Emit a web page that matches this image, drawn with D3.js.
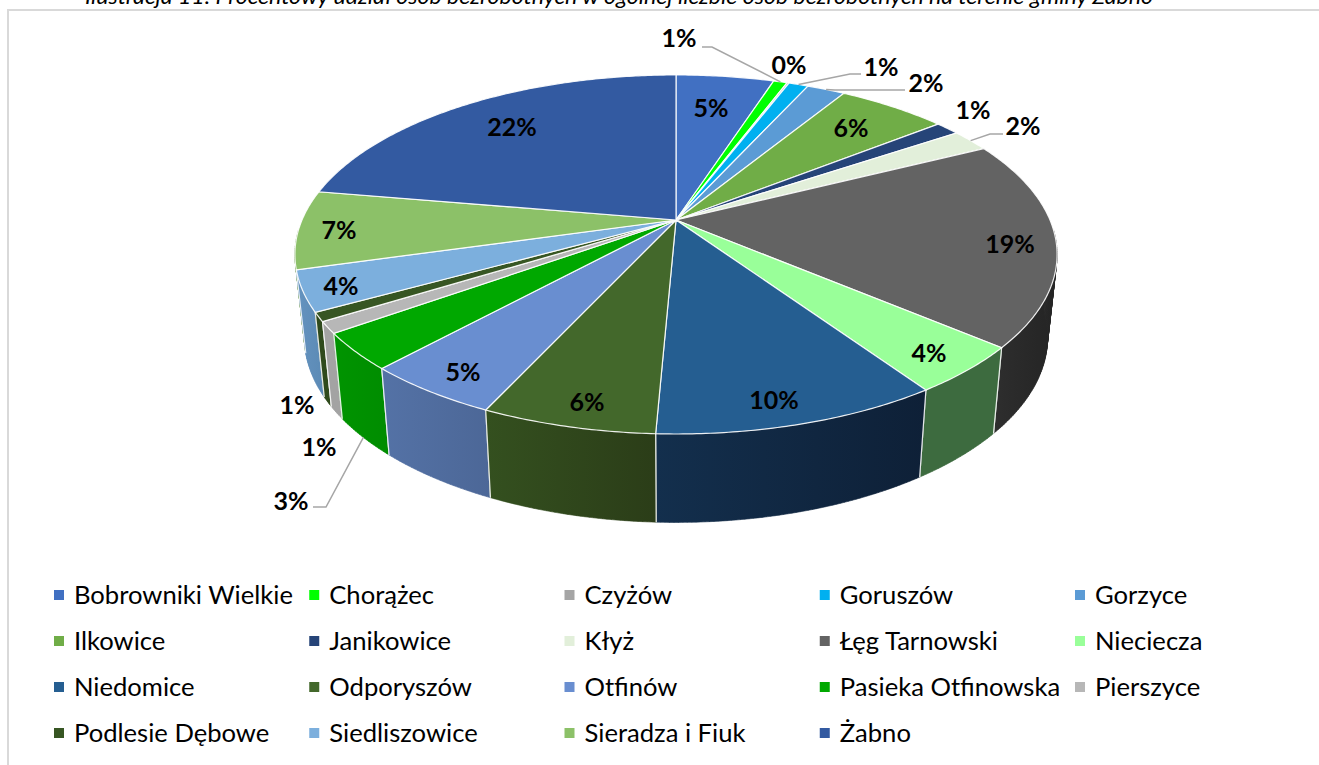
<!DOCTYPE html>
<html>
<head>
<meta charset="utf-8">
<script src="https://cdn.jsdelivr.net/npm/d3@7"></script>
<style>
  html, body { margin: 0; padding: 0; background: #fff; overflow: hidden; }
  text { font-family: Lato, "Open Sans", sans-serif; fill: #000; }
</style>
</head>
<body>
<div id="chart-area"></div>
<script>
var width = 1319;
var height = 765;

var caption = "Ilustracja 11. Procentowy udział osób bezrobotnych w ogólnej liczbie osób bezrobotnych na terenie gminy Żabno";

var categories = ["Bobrowniki Wielkie", "Chorążec", "Czyżów", "Goruszów", "Gorzyce",
    "Ilkowice", "Janikowice", "Kłyż", "Łęg Tarnowski", "Nieciecza",
    "Niedomice", "Odporyszów", "Otfinów", "Pasieka Otfinowska", "Pierszyce",
    "Podlesie Dębowe", "Siedliszowice", "Sieradza i Fiuk", "Żabno"];
var shares = [5, 0.7, 0.1, 1, 1.95, 5.6, 1.25, 2, 18.6, 4.3, 10.2, 6.2, 4.9, 3.3, 1.05, 0.8, 3.65, 7.1, 22.3];

var topColors = ["#4170c2", "#00ff00", "#a5a5a5", "#00b0f0", "#5b9bd5",
    "#70ad47", "#264478", "#e2efda", "#636363", "#99ff99",
    "#255e91", "#43682b", "#698ed0", "#00a800", "#b7b7b7",
    "#375623", "#7cafdd", "#8cc168", "#335aa1"];
var sideLeft = ["#33589a", "#00c000", "#808080", "#0088ba", "#4678a5",
    "#57863a", "#1d345d", "#afb9a9", "#2e2e2e", "#3d6b3f",
    "#132f4d", "#34501f", "#5472a6", "#009400", "#a3a3a3",
    "#2f4a1c", "#6593bf", "#6c964f", "#27467d"];
var sideRight = ["#33589a", "#00c000", "#808080", "#0088ba", "#4678a5",
    "#57863a", "#1d345d", "#afb9a9", "#242424", "#3d6b3f",
    "#0e2037", "#2b3d18", "#4c6797", "#008c00", "#a3a3a3",
    "#2f4a1c", "#5b8ab5", "#6c964f", "#27467d"];

// label centres, same order as categories
var labelX = [711, 679, 789, 881, 926, 851, 973, 1023, 1010, 929, 774, 587, 463, 291, 319, 297, 341, 339, 512];
var labelY = [108, 38, 65, 67, 83, 128, 110, 126, 244, 353, 400, 402, 372, 501, 447, 405, 286, 230, 127];

// leader lines: slice index and the elbow points next to its label
var leaders = [
    {i: 1, pts: [[702, 47], [712, 47]]},
    {i: 3, pts: [[861, 74], [850, 74]]},
    {i: 4, pts: [[905, 90], [835, 90]]},
    {i: 7, pts: [[1003, 134], [990, 134]]},
    {i: 13, pts: [[313, 507], [326, 507]], side: true}
];

var svg = d3.select("#chart-area")
    .append("svg")
    .attr("width", width)
    .attr("height", height);

// frame, runs off the right and bottom of the picture
svg.append("rect")
    .attr("x", 8).attr("y", 10)
    .attr("width", width + 10)
    .attr("height", height + 10)
    .attr("fill", "#fff")
    .attr("stroke", "#d9d9d9")
    .attr("stroke-width", 2);

// caption is cut by the top edge in the original too
svg.append("text")
    .attr("x", 85).attr("y", 4)
    .attr("font-size", "20.5px")
    .attr("font-style", "italic")
    .attr("textLength", 1068)
    .attr("lengthAdjust", "spacingAndGlyphs")
    .text(caption);

// perspective of the pie disc
var cx = 676, cy = 220, rx = 374, ry = 172.9, k = 0.192;
var bottomCy = 302, bottomSx = 0.975, bottomSy = 1.03;

function project(a) {
    var u = Math.sin(a), v = -Math.cos(a), w = 1 - k * v;
    return [rx * u / w, ry * v / w];
}
function topPt(a) {
    var p = project(a);
    return [cx + p[0], cy + p[1]];
}
function bottomPt(a) {
    var p = project(a);
    return [cx + p[0] * bottomSx, bottomCy + p[1] * bottomSy];
}
function facesViewer(a) {
    return -Math.cos(a) > 0.05;
}
function rimAngles(a0, a1) {
    var n = Math.max(2, Math.ceil((a1 - a0) / 0.01));
    return d3.range(n + 1).map((j) => { return a0 + (a1 - a0) * j / n; });
}
function rim(a0, a1, fn) {
    return rimAngles(a0, a1).map(fn);
}

var pie = d3.pie().sort(null).value((d) => { return d; });
var arcs = pie(shares).map((d, i) => {
    return {i: i, a0: d.startAngle, a1: d.endAngle, mid: (d.startAngle + d.endAngle) / 2};
});
var line = d3.line();
var defs = svg.append("defs");

// sides, back ones first so the front ones paint over
var sides = arcs.slice().sort((a, b) => { return Math.cos(b.mid) - Math.cos(a.mid); });
sides.forEach((d) => {
    // only the part of the wall that faces the viewer
    var angles = rimAngles(d.a0, d.a1).filter(facesViewer);
    if (angles.length < 2) return;
    var tops = angles.map(topPt);
    var bots = angles.map(bottomPt);
    var xs = d3.extent(tops.concat(bots), (p) => { return p[0]; });

    var grad = defs.append("linearGradient")
        .attr("id", "side" + d.i)
        .attr("gradientUnits", "userSpaceOnUse")
        .attr("x1", xs[0]).attr("x2", xs[1]);
    grad.append("stop").attr("offset", "0").attr("stop-color", sideLeft[d.i]);
    grad.append("stop").attr("offset", "1").attr("stop-color", sideRight[d.i]);

    // thin strips, one polygon would lose the straight silhouette at the pie's ends
    var strips = d3.range(tops.length - 1).map((j) => {
        return line([tops[j], tops[j + 1], bots[j + 1], bots[j]]) + "Z";
    }).join("");
    svg.append("path")
        .attr("d", strips)
        .attr("fill", "url(#side" + d.i + ")")
        .attr("stroke", "url(#side" + d.i + ")")
        .attr("stroke-width", 0.6);

    // white seams between the slices, none where the wall just turns away
    var seams = [d.a0, d.a1].filter(facesViewer).map((a) => {
        return line([topPt(a), bottomPt(a)]);
    }).join("");
    svg.append("path")
        .attr("d", seams)
        .attr("fill", "none")
        .attr("stroke", "#fff")
        .attr("stroke-opacity", 0.85)
        .attr("stroke-width", 1.2);
});

// top face
svg.selectAll(".slice").data(arcs).enter()
    .append("path")
    .attr("class", "slice")
    .attr("d", (d) => { return line([[cx, cy]].concat(rim(d.a0, d.a1, topPt))) + "Z"; })
    .attr("fill", (d) => { return topColors[d.i]; })
    .attr("stroke", "#fff")
    .attr("stroke-opacity", 0.9)
    .attr("stroke-width", 1.2);

// leaders
leaders.forEach((l) => {
    var end = (l.side ? bottomPt : topPt)(arcs[l.i].mid);
    svg.append("path")
        .attr("d", line(l.pts.concat([end])))
        .attr("fill", "none")
        .attr("stroke", "#a6a6a6")
        .attr("stroke-width", 1.5);
});

// percent labels
svg.selectAll(".pct").data(shares).enter()
    .append("text")
    .attr("class", "pct")
    .attr("x", (d, i) => { return labelX[i]; })
    .attr("y", (d, i) => { return labelY[i]; })
    .attr("dy", "0.35em")
    .attr("text-anchor", "middle")
    .attr("font-size", "25px")
    .attr("font-weight", 700)
    .text((d) => { return Math.round(d) + "%"; });

// legend
var cols = d3.scaleLinear().domain([0, 4]).range([54, 1075]);
var rows = d3.scaleLinear().domain([0, 3]).range([595, 733]);
var legend = svg.selectAll(".legend").data(categories).enter()
    .append("g")
    .attr("class", "legend")
    .attr("transform", (d, i) => {
        return "translate(" + cols(i % 5) + ", " + rows(Math.floor(i / 5)) + ")";
    });
legend.append("rect")
    .attr("x", 0).attr("y", -5)
    .attr("width", 10).attr("height", 10)
    .attr("fill", (d, i) => { return topColors[i]; });
legend.append("text")
    .attr("x", 20)
    .attr("dy", "0.35em")
    .attr("font-size", "25.6px")
    .text((d) => { return d; });
</script>
</body>
</html>
